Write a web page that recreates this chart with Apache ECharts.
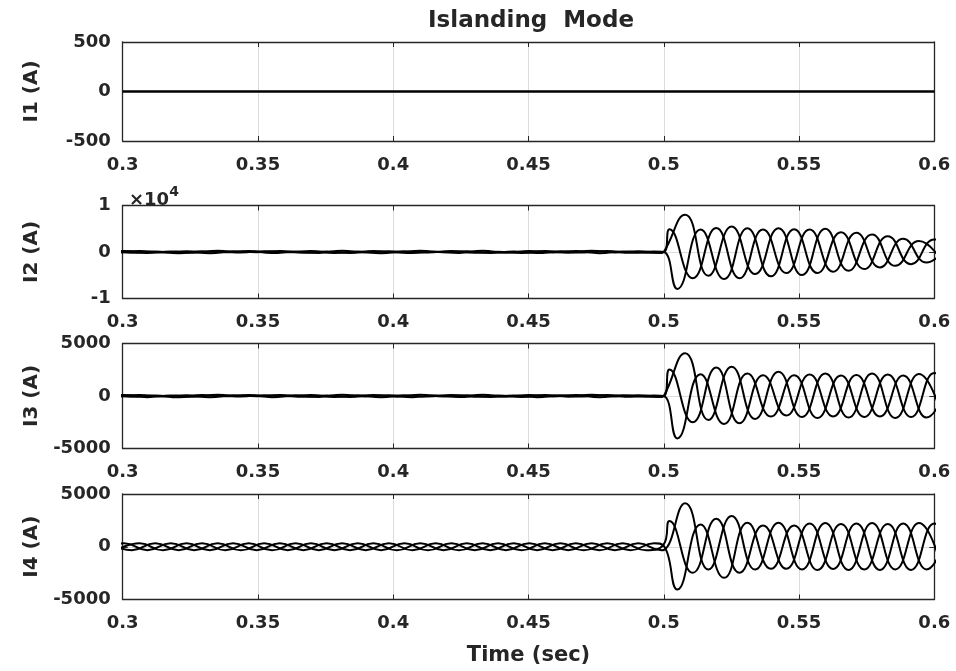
<!DOCTYPE html>
<html><head><meta charset="utf-8">
<script src="https://cdn.jsdelivr.net/npm/echarts@6/dist/echarts.min.js"></script>
<style>html,body{margin:0;padding:0;background:#fff}#c{width:956px;height:671px}</style>
</head><body><div id="c"></div>
<script>
// ---------- tick / axis data ----------
const xTicks = [0.3, 0.35, 0.4, 0.45, 0.5, 0.55, 0.6];
const panelNames = ['I1 (A)', 'I2 (A)', 'I3 (A)', 'I4 (A)'];
const yMin = [-500, -10000, -5000, -5000];
const yMax = [500, 10000, 5000, 5000];
const yStep = [500, 10000, 5000, 5000];

// ---------- I1 (flat) ----------
const i1Time = [0.3, 0.6];
const i1Val = [0, 0];

// ---------- sample times (s), one list per phase ----------
const tPreA = [0.2947, 0.3034, 0.3120, 0.3207, 0.3293, 0.3379, 0.3466, 0.3552, 0.3639, 0.3725, 0.3811, 0.3898, 0.3984, 0.4071, 0.4157, 0.4243, 0.4330, 0.4416, 0.4503, 0.4589, 0.4675, 0.4762, 0.4848, 0.4935];
const tPreC = [0.2976, 0.3063, 0.3149, 0.3236, 0.3322, 0.3408, 0.3495, 0.3581, 0.3668, 0.3754, 0.3840, 0.3927, 0.4013, 0.4100, 0.4186, 0.4272, 0.4359, 0.4445, 0.4532, 0.4618, 0.4704, 0.4791, 0.4877, 0.4964];
const tPreB = [0.2919, 0.3005, 0.3091, 0.3178, 0.3264, 0.3351, 0.3437, 0.3523, 0.3610, 0.3696, 0.3783, 0.3869, 0.3955, 0.4042, 0.4128, 0.4215, 0.4301, 0.4387, 0.4474, 0.4560, 0.4647, 0.4733, 0.4819, 0.4906, 0.4992];
const tPostA = [0.5000, 0.5021, 0.5107, 0.5194, 0.5280, 0.5367, 0.5453, 0.5539, 0.5626, 0.5712, 0.5799, 0.5885, 0.5971, 0.6058];
const tPostC = [0.5000, 0.5050, 0.5136, 0.5223, 0.5309, 0.5396, 0.5482, 0.5568, 0.5655, 0.5741, 0.5828, 0.5914, 0.6000, 0.6087];
const tPostB = [0.5000, 0.5079, 0.5165, 0.5251, 0.5338, 0.5424, 0.5511, 0.5597, 0.5683, 0.5770, 0.5856, 0.5943, 0.6029];

// ---------- I2 (A) ----------
const i2PreA = [240, -150, 90, -260, 180, -60, 210, -230, 130, -190, 270, -110, 160, -240, 80, -200, 250, -140, 190, -90, 220, -260, 120, -170];
const i2PreC = [-180, 220, -90, 160, -250, 140, -60, 230, -170, 110, -220, 190, -130, 260, -80, 170, -210, 90, -240, 150, -120, 200, -160, 100];
const i2PreB = [-120, 200, -240, 90, -160, 250, -110, 180, -70, 220, -190, 130, -250, 160, -100, 210, -150, 80, -230, 190, -140, 260, -90, 170, -200];
const i2PostA = [0, 4900, -5670, 5170, -5670, 4830, -4530, 4830, -4250, 4130, -3320, 2850, -2260, 2100];
const i2PostC = [0, -7940, 4830, -5810, 5100, -5240, 4900, -4530, 4260, -3680, 3400, -2620, 2700, -2000];
const i2PostB = [0, 8000, -5100, 5470, -4750, 5100, -4960, 4980, -4040, 3770, -2980, 2340, -2100];

// ---------- I3 (A) ----------
const i3PreA = [110, -70, 40, -120, 90, -30, 100, -110, 60, -90, 120, -50, 80, -110, 40, -100, 120, -60, 90, -40, 100, -120, 60, -80];
const i3PreC = [-80, 100, -40, 70, -110, 60, -30, 100, -80, 50, -100, 90, -60, 120, -40, 80, -100, 40, -110, 70, -50, 90, -70, 50];
const i3PreB = [-60, 90, -110, 40, -70, 110, -50, 80, -30, 100, -90, 60, -110, 70, -50, 100, -70, 40, -100, 90, -60, 120, -40, 80, -90];
const i3PostA = [0, 2530, -2500, 2720, -2600, 1980, -1860, 2050, -1950, 2000, -1950, 1950, -2050, 2000];
const i3PostC = [0, -4040, 2080, -2660, 2140, -1960, 1980, -2100, 1950, -2000, 2050, -2000, 2200, -2000];
const i3PostB = [0, 4070, -2280, 2790, -2180, 2310, -2000, 2150, -2050, 2150, -2100, 2100, -2000];

// ---------- I4 (A) ----------
const i4PreA = [330, -320, 335, -325, 330, -330, 320, -335, 330, -325, 335, -320, 330, -330, 325, -335, 330, -320, 335, -330, 325, -330, 330, -335];
const i4PreC = [-325, 330, -335, 320, -330, 335, -325, 330, -320, 335, -330, 325, -335, 330, -325, 320, -330, 335, -325, 330, -335, 325, -330, 330];
const i4PreB = [-330, 325, -320, 335, -330, 325, -335, 330, -325, 320, -330, 335, -325, 330, -335, 325, -330, 320, -335, 330, -325, 335, -330, 325, -330];
const i4PostA = [230, 2430, -2470, 2660, -2470, 2020, -2090, 2200, -2100, 2200, -2200, 2200, -2150, 2200];
const i4PostC = [90, -4060, 2120, -2950, 2280, -2090, 2020, -2200, 2150, -2150, 2150, -2200, 2200, -2150];
const i4PostB = [-310, 4120, -2160, 2910, -2160, 2280, -2150, 2250, -2200, 2250, -2150, 2250, -2150];

// ---------- build ----------
function zip(t, v) { return t.map((x, i) => [x, v[i]]); }
const panelData = [
  [zip(i1Time, i1Val)],
  [zip(tPreA, i2PreA).concat(zip(tPostA, i2PostA)), zip(tPreB, i2PreB).concat(zip(tPostB, i2PostB)), zip(tPreC, i2PreC).concat(zip(tPostC, i2PostC))],
  [zip(tPreA, i3PreA).concat(zip(tPostA, i3PostA)), zip(tPreB, i3PreB).concat(zip(tPostB, i3PostB)), zip(tPreC, i3PreC).concat(zip(tPostC, i3PostC))],
  [zip(tPreA, i4PreA).concat(zip(tPostA, i4PostA)), zip(tPreB, i4PreB).concat(zip(tPostB, i4PostB)), zip(tPreC, i4PreC).concat(zip(tPostC, i4PostC))]
];

const FONT = 'DejaVu Sans';
const TXT = '#262626';
const GRIDC = '#dcdcdc';
const layout = [
  { top: 42, height: 99 },
  { top: 205.5, height: 93 },
  { top: 343.5, height: 105 },
  { top: 494, height: 105.5 }
];
const labelStyle = { color: TXT, fontFamily: FONT, fontWeight: 'bold', fontSize: 18 };
const lineStyle = { color: TXT, width: 1.3 };
const tick = { show: true, inside: true, length: 5, lineStyle: { color: TXT, width: 1 } };

const grid = [], xAxis = [], yAxis = [], series = [];
layout.forEach((g, i) => {
  grid.push({ left: 122.7, right: 21.7, top: g.top, height: g.height, containLabel: false });
  xAxis.push({
    type: 'value', gridIndex: i, position: 'bottom', min: xTicks[0], max: xTicks[xTicks.length - 1], interval: 0.05,
    axisLine: { show: true, onZero: false, lineStyle },
    axisTick: tick,
    axisLabel: Object.assign({ margin: 15, formatter: v => String(+v.toFixed(2)) }, labelStyle),
    splitLine: { show: true, lineStyle: { color: GRIDC, width: 1 } },
    name: i === 3 ? 'Time (sec)' : '', nameLocation: 'middle', nameGap: 46,
    nameTextStyle: { color: TXT, fontFamily: FONT, fontWeight: 'bold', fontSize: 21 }
  });
  xAxis.push({
    type: 'value', gridIndex: i, position: 'top', min: xTicks[0], max: xTicks[xTicks.length - 1], interval: 0.05,
    axisLine: { show: true, onZero: false, lineStyle }, axisTick: tick,
    axisLabel: { show: false }, splitLine: { show: false }
  });
  yAxis.push({
    type: 'value', gridIndex: i, position: 'left', min: yMin[i], max: yMax[i], interval: yStep[i],
    axisLine: { show: true, onZero: false, lineStyle }, axisTick: tick,
    axisLabel: Object.assign({ margin: 12, formatter: v => i === 1 ? String(v / 10000) : String(v) }, labelStyle),
    splitLine: { show: true, lineStyle: { color: GRIDC, width: 1 } },
    name: panelNames[i], nameLocation: 'middle', nameGap: 81,
    nameTextStyle: { color: TXT, fontFamily: FONT, fontWeight: 'bold', fontSize: 20 }
  });
  yAxis.push({
    type: 'value', gridIndex: i, position: 'right', min: yMin[i], max: yMax[i], interval: yStep[i],
    axisLine: { show: true, onZero: false, lineStyle }, axisTick: tick,
    axisLabel: { show: false }, splitLine: { show: false }
  });
  panelData[i].forEach(d => {
    series.push({
      type: 'line', xAxisIndex: 2 * i, yAxisIndex: 2 * i, data: d,
      showSymbol: false, smooth: i === 0 ? false : 0.5, clip: true,
      lineStyle: { color: '#000', width: i === 0 ? 2.6 : 2 }, z: 3
    });
  });
});

const chart = echarts.init(document.getElementById('c'), null, { renderer: 'canvas' });
chart.setOption({
  animation: false,
  backgroundColor: '#fff',
  title: [
    { text: 'Islanding  Mode', left: 526, top: 5, textAlign: 'center',
      textStyle: { color: TXT, fontFamily: FONT, fontWeight: 'bold', fontSize: 23 } },
    { text: '{a|×10}{b|4}', left: 124, top: 180,
      textStyle: { rich: {
        a: { color: TXT, fontFamily: FONT, fontSize: 18, verticalAlign: 'bottom', lineHeight: 24 },
        b: { color: TXT, fontFamily: FONT, fontSize: 14, verticalAlign: 'top', lineHeight: 24 }
      } } }
  ],
  grid, xAxis, yAxis, series
});
</script></body></html>
